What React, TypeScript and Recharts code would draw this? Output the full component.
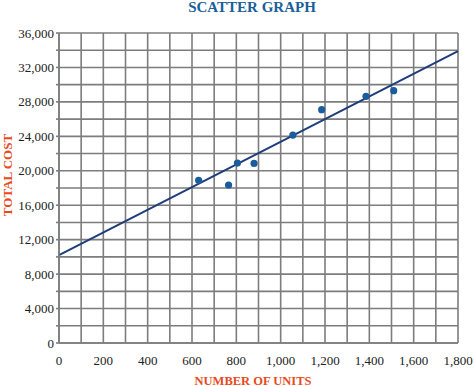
import { ComposedChart, Scatter, XAxis, YAxis, CartesianGrid, ReferenceLine } from "recharts";

const units = [630, 765, 805, 880, 1055, 1185, 1385, 1510];
const totalCost = [18900, 18350, 20900, 20850, 24150, 27100, 28650, 29300];

// fitted cost line at both ends of the x range
const lineUnits = [0, 1800];
const lineCost = [10200, 33900];

const xTicks = [0, 100, 200, 300, 400, 500, 600, 700, 800, 900, 1000, 1100, 1200, 1300, 1400, 1500, 1600, 1700, 1800];
const yTicks = [
  0, 2000, 4000, 6000, 8000, 10000, 12000, 14000, 16000, 18000,
  20000, 22000, 24000, 26000, 28000, 30000, 32000, 34000, 36000,
];

const points = units.map((u, i) => ({ x: u, y: totalCost[i] }));

const GRID = "#7d7d7d";
const FONT = "Liberation Serif";

const fmt = (v: number) => v.toLocaleString("en-US");

function Dot(props: any) {
  const { cx, cy } = props;
  return <circle cx={cx} cy={cy} r={3.6} fill="#1b5c9c" />;
}

// labels only on every other grid line
function XTick(props: any) {
  const { x, y, payload } = props;
  if (payload.value % 200 !== 0) return null;
  return (
    <text x={x} y={y + 9} textAnchor="middle" fontFamily={FONT} fontSize={13} fill="#222">
      {fmt(payload.value)}
    </text>
  );
}

function YTick(props: any) {
  const { x, y, payload } = props;
  if (payload.value % 4000 !== 0) return null;
  return (
    <text x={x} y={y + 4.5} textAnchor="end" fontFamily={FONT} fontSize={13} fill="#222">
      {fmt(payload.value)}
    </text>
  );
}

export default function App() {
  return (
    <div style={{ position: "absolute", left: 0, top: 0, width: 474, height: 386, background: "#fff" }}>
      <ComposedChart width={474} height={386} margin={{ top: 33, right: 16, left: 9, bottom: 13 }}>
        <CartesianGrid stroke={GRID} strokeWidth={1.6} horizontalValues={yTicks} verticalValues={xTicks} />
        <XAxis
          type="number"
          dataKey="x"
          domain={[0, 1800]}
          ticks={xTicks}
          interval={0}
          height={30}
          tick={<XTick />}
          tickLine={false}
          tickSize={4}
          tickMargin={9}
          axisLine={{ stroke: GRID, strokeWidth: 1.6 }}
          allowDataOverflow
        />
        <YAxis
          type="number"
          dataKey="y"
          domain={[0, 36000]}
          ticks={yTicks}
          interval={0}
          width={50}
          tick={<YTick />}
          tickLine={{ stroke: GRID, strokeWidth: 1.6 }}
          tickSize={3}
          tickMargin={2}
          axisLine={{ stroke: GRID, strokeWidth: 1.6 }}
          allowDataOverflow
        />
        <ReferenceLine
          segment={[
            { x: lineUnits[0], y: lineCost[0] },
            { x: lineUnits[1], y: lineCost[1] },
          ]}
          stroke="#1f3d7a"
          strokeWidth={2}
          ifOverflow="visible"
        />
        <Scatter data={points} shape={<Dot />} isAnimationActive={false} />
      </ComposedChart>
      <svg
        width={474}
        height={386}
        style={{ position: "absolute", left: 0, top: 0, pointerEvents: "none" }}
      >
        <text x={252} y={11.5} textAnchor="middle" fontFamily={FONT} fontWeight="bold" fontSize={15} fill="#1b5e9a">
          SCATTER GRAPH
        </text>
        <text x={253} y={384.5} textAnchor="middle" fontFamily={FONT} fontWeight="bold" fontSize={12.5} fill="#e84a1c">
          NUMBER OF UNITS
        </text>
        <text
          x={0}
          y={0}
          transform="translate(11.5,175) rotate(-90)"
          textAnchor="middle"
          fontFamily={FONT}
          fontWeight="bold"
          fontSize={13}
          fill="#e84a1c"
        >
          TOTAL COST
        </text>
      </svg>
    </div>
  );
}
